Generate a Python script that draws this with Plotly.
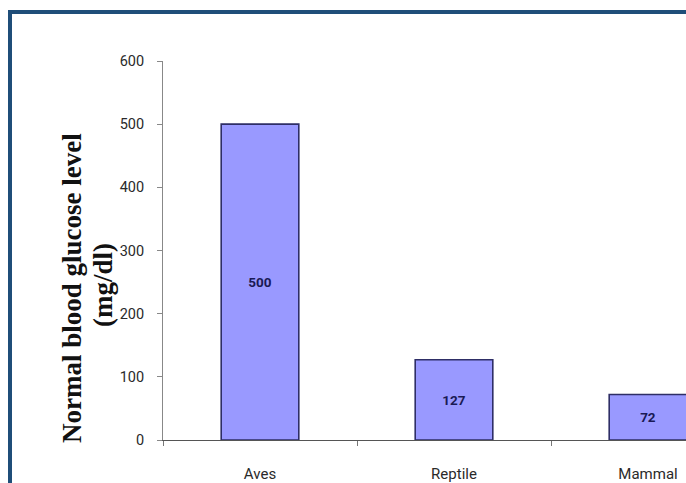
import plotly.graph_objects as go

categories = ["Aves", "Reptile", "Mammal"]
glucose = [500, 127, 72]
y_ticks = [0, 100, 200, 300, 400, 500, 600]

W, H = 686, 483
L, R, T, B = 163, 0, 61, 43
pw, ph = W - L - R, H - T - B
cat_px = 194.0

def px_x(x):
    return (x - L) / pw

def px_y(y):
    return (H - B - y) / ph

fig = go.Figure()
fig.add_trace(go.Bar(
    x=categories, y=glucose,
    width=0.4,
    marker=dict(color="#9999FF", line=dict(color="#2E2E66", width=1.6)),
    text=["<b>%d</b>" % v for v in glucose],
    textposition="inside",
    insidetextanchor="middle",
    textangle=0,
    textfont=dict(family="Roboto", size=13.5, color="#1A1A55"),
    cliponaxis=True,
))

fig.update_layout(
    width=W, height=H,
    margin=dict(l=L, r=R, t=T, b=B),
    paper_bgcolor="white", plot_bgcolor="white",
    showlegend=False,
    xaxis=dict(
        type="category",
        range=[-0.5, -0.5 + pw / cat_px],
        showline=True, linecolor="#555555", linewidth=1,
        ticks="outside", tickson="boundaries", ticklen=5, tickcolor="#777777",
        showgrid=False, zeroline=False,
        tickfont=dict(family="Roboto", size=15, color="#2A2A2A"),
        ticklabelstandoff=20,
    ),
    yaxis=dict(
        range=[0, 600], tickvals=y_ticks,
        showline=True, linecolor="#888888", linewidth=1,
        ticks="outside", ticklen=5, tickcolor="#888888",
        showgrid=False, zeroline=False,
        tickfont=dict(family="Roboto", size=14.5, color="#2A2A2A"),
        ticklabelstandoff=10,
    ),
    annotations=[
        dict(text="<b>Normal blood glucose level</b>", xref="paper", yref="paper",
             x=px_x(72), y=px_y(288), xanchor="center", yanchor="middle",
             textangle=-90, showarrow=False,
             font=dict(family="Liberation Serif", size=27, color="#111111")),
        dict(text="<b>(mg/dl)</b>", xref="paper", yref="paper",
             x=px_x(103), y=px_y(285), xanchor="center", yanchor="middle",
             textangle=-90, showarrow=False,
             font=dict(family="Liberation Serif", size=27, color="#111111")),
    ],
    shapes=[
        dict(type="rect", xref="paper", yref="paper",
             x0=px_x(10), x1=px_x(720), y0=px_y(520), y1=px_y(12),
             line=dict(color="#1F4E79", width=4), fillcolor="rgba(0,0,0,0)"),
    ],
)

fig.write_html("out.html")
